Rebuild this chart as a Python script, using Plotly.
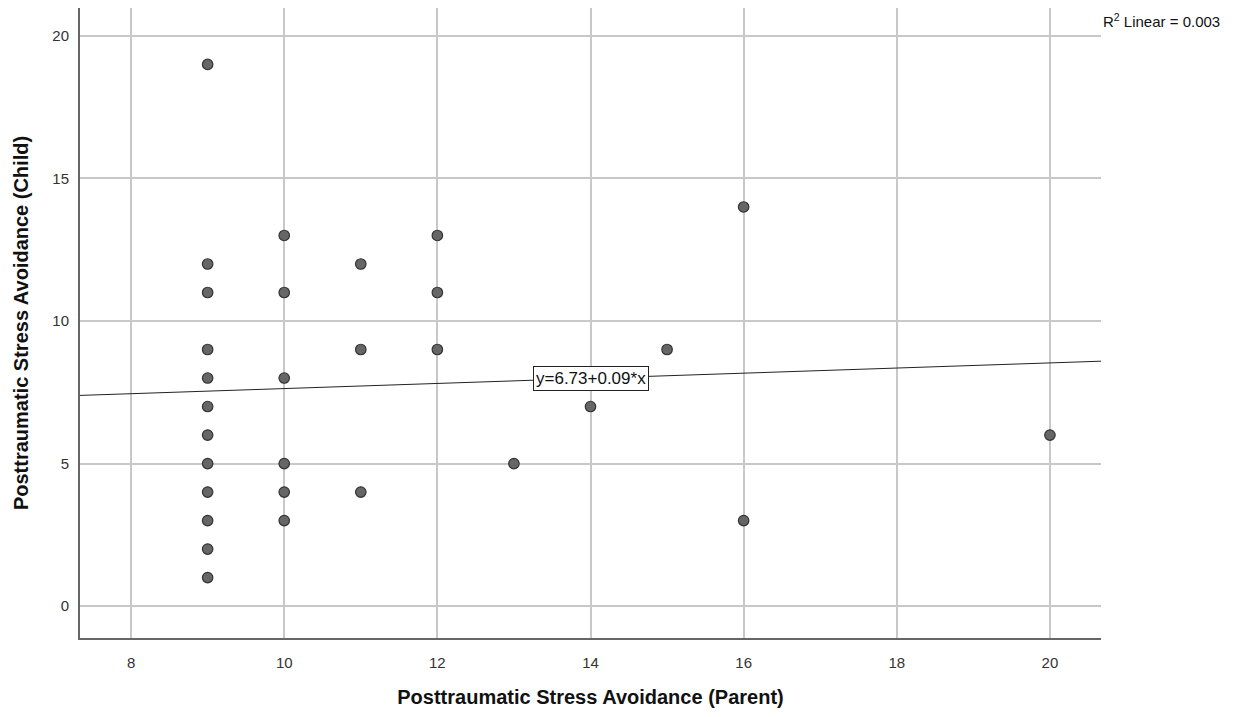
import plotly.graph_objects as go

parent = [9]*12 + [10]*6 + [11]*3 + [12]*3 + [13, 14, 15, 16, 16, 20]
child = [19, 12, 11, 9, 8, 7, 6, 5, 4, 3, 2, 1,
         13, 11, 8, 5, 4, 3,
         12, 9, 4,
         13, 11, 9,
         5, 7, 9, 14, 3, 6]

intercept = 6.73
slope = 0.09
x_range = [7.333, 20.667]
y_range = [-1.12, 20.98]
x_ticks = [8, 10, 12, 14, 16, 18, 20]
y_ticks = [0, 5, 10, 15, 20]
fit_label = "y=6.73+0.09*x"
r2_label = "R<sup>2</sup> Linear = 0.003"

line_x = x_range
line_y = [intercept + slope * v for v in line_x]

fig = go.Figure()
fig.add_trace(go.Scatter(
    x=line_x, y=line_y, mode="lines",
    line=dict(color="#222222", width=1), showlegend=False, hoverinfo="skip"))
fig.add_trace(go.Scatter(
    x=parent, y=child, mode="markers",
    marker=dict(size=10.5, color="#666666", line=dict(color="#333333", width=1.2)),
    showlegend=False))

font_fam = "Liberation Sans, Arial, sans-serif"
fig.add_annotation(
    x=14, y=intercept + slope * 14, text=fit_label, showarrow=False,
    font=dict(family=font_fam, size=17, color="#111111"),
    bgcolor="white", bordercolor="#222222", borderwidth=1, borderpad=2)
fig.add_annotation(
    xref="paper", yref="paper", x=1.0, y=0.998, xanchor="left", yanchor="top",
    text=r2_label, showarrow=False,
    font=dict(family=font_fam, size=15, color="#111111"))

fig.update_layout(
    width=1230, height=709,
    margin=dict(l=72, r=137, t=0, b=79),
    paper_bgcolor="white", plot_bgcolor="white",
    font=dict(family=font_fam, color="#333333"),
)
fig.update_xaxes(
    range=x_range, tickvals=x_ticks, showgrid=True, gridcolor="#c8c8c8", gridwidth=1.5,
    zeroline=False, showline=True, linecolor="#666666", linewidth=2,
    ticks="", ticklabelstandoff=10, tickfont=dict(size=15, color="#333333"),
    title=dict(text="<b>Posttraumatic Stress Avoidance (Parent)</b>",
               font=dict(size=20, color="#111111"), standoff=20))
fig.update_yaxes(
    range=y_range, tickvals=y_ticks, showgrid=True, gridcolor="#c8c8c8", gridwidth=1.5,
    zeroline=False, showline=True, linecolor="#666666", linewidth=2,
    ticks="", ticklabelstandoff=6, tickfont=dict(size=15, color="#333333"),
    title=dict(text="<b>Posttraumatic Stress Avoidance (Child)</b>",
               font=dict(size=20, color="#111111"), standoff=18))

fig.write_html("out.html")
